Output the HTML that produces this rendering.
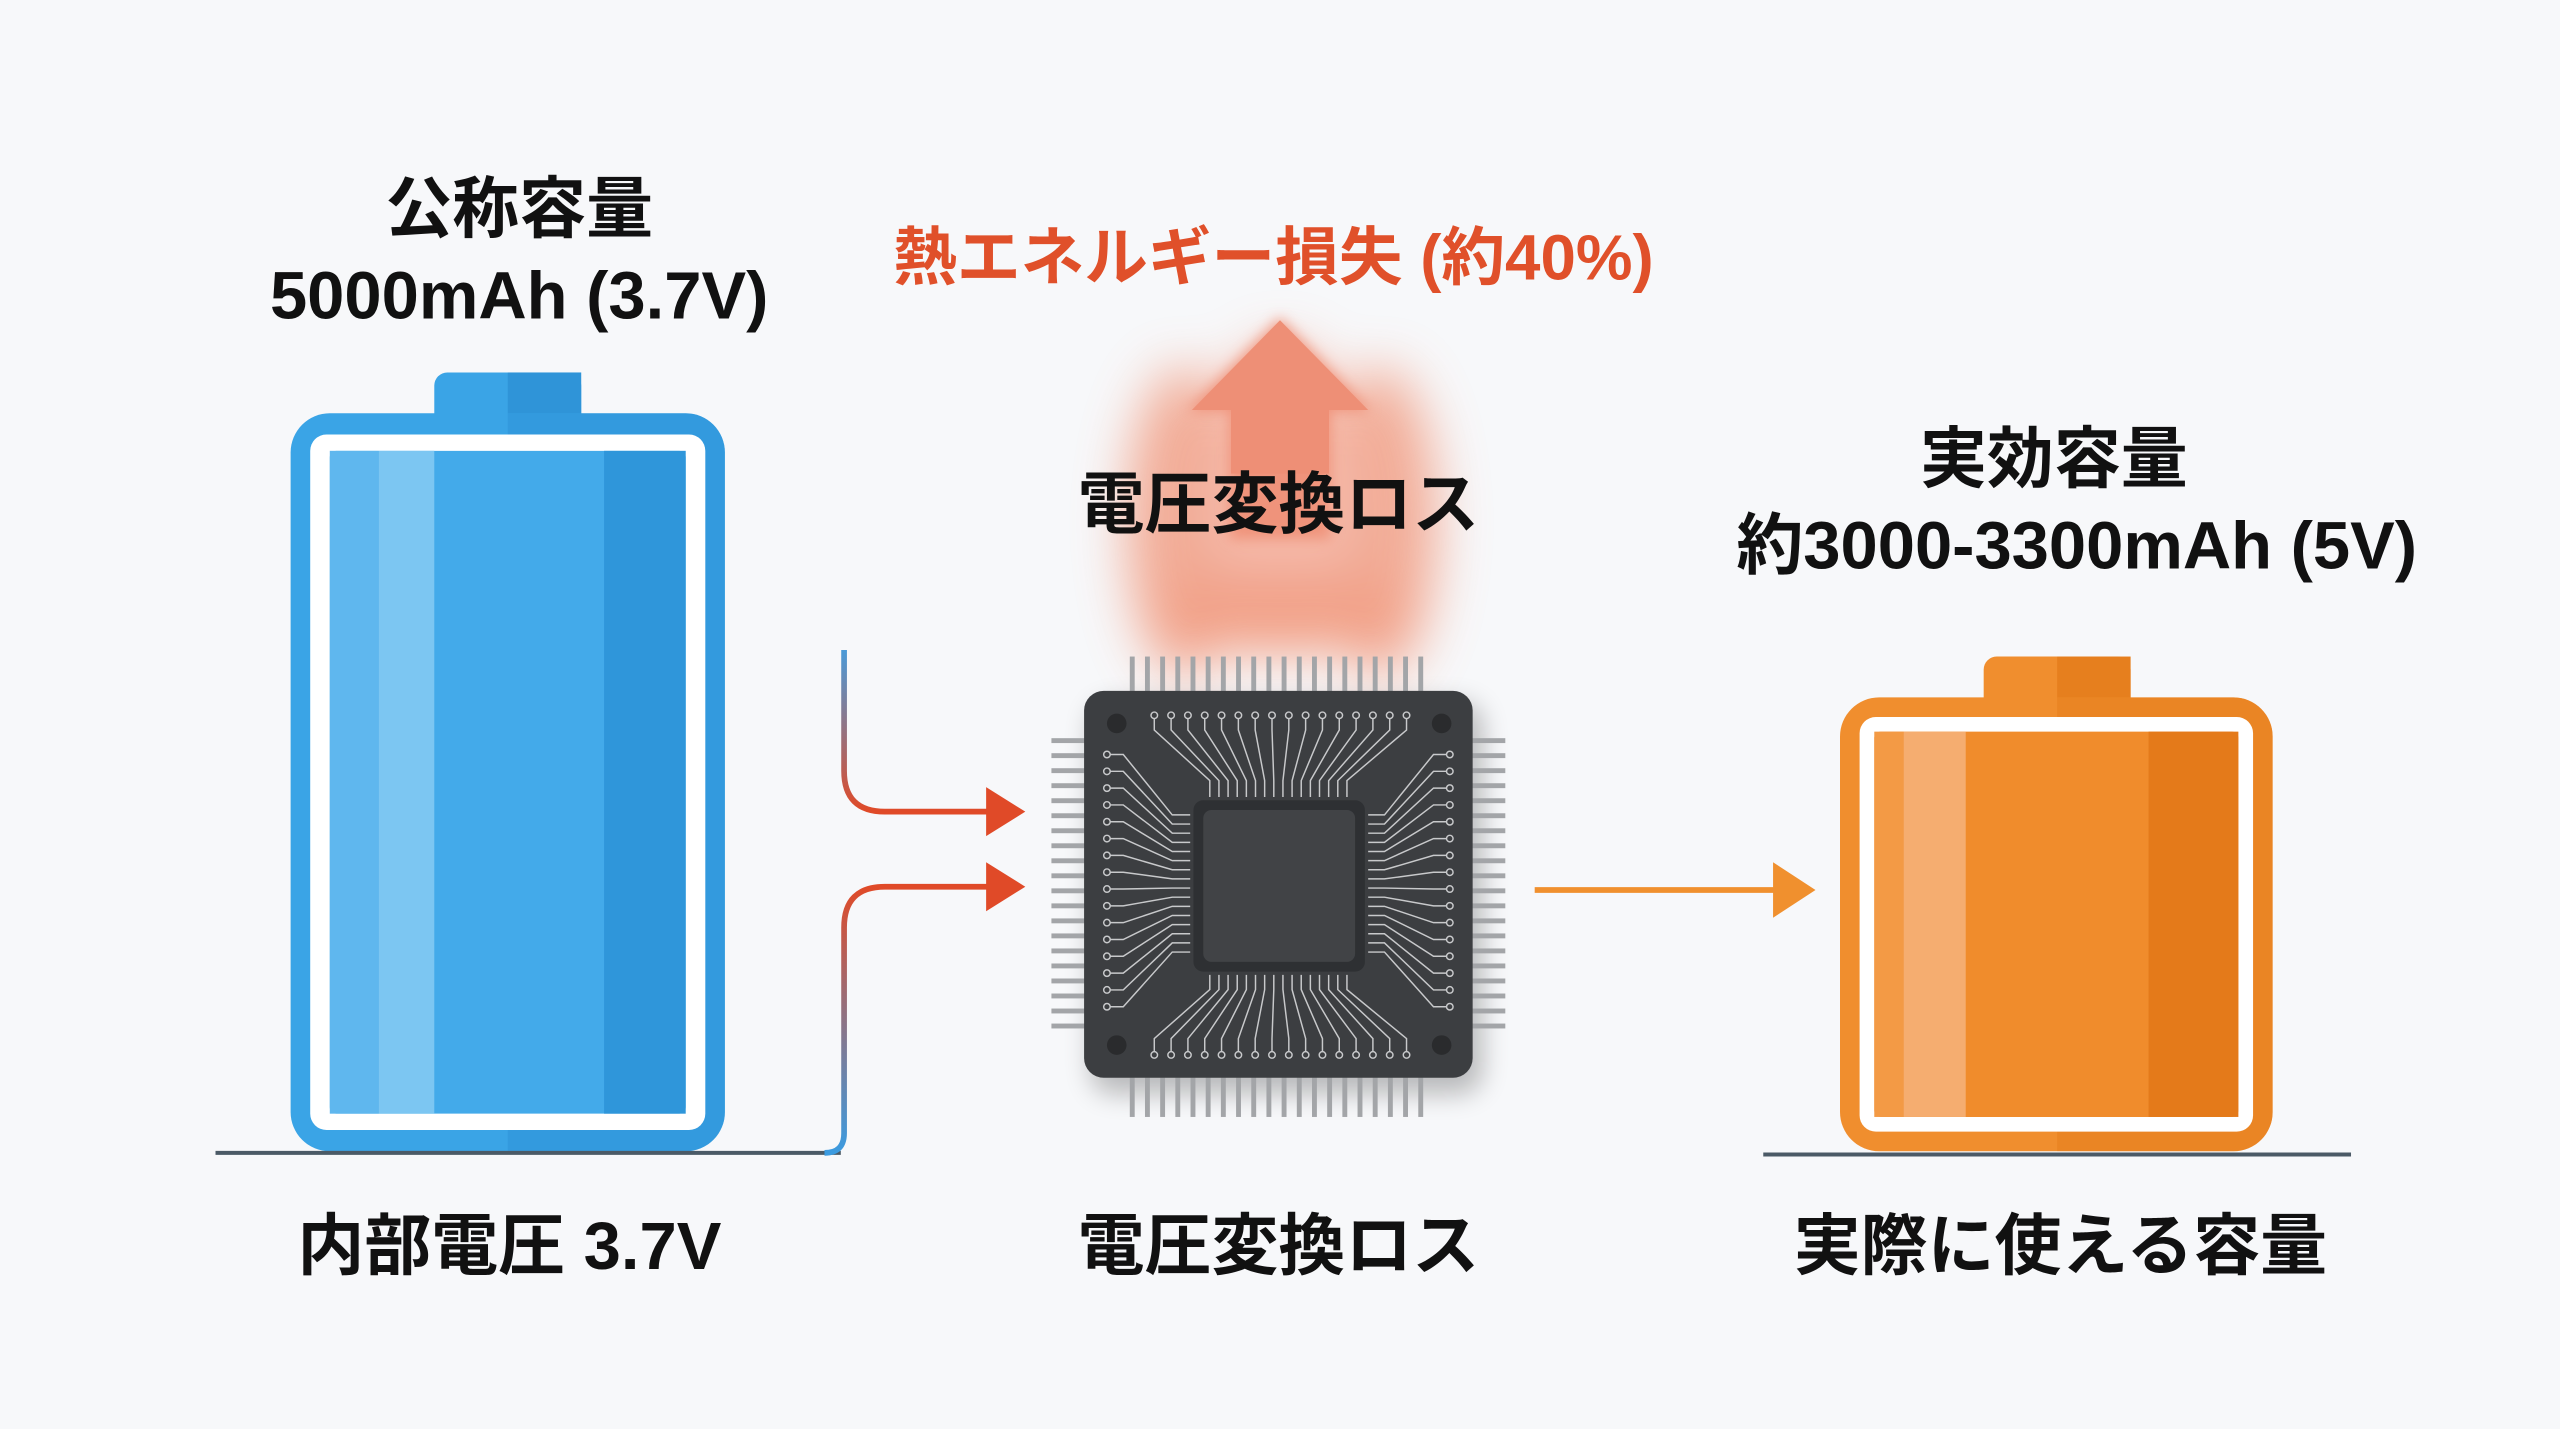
<!DOCTYPE html>
<html><head><meta charset="utf-8"><style>
html,body{margin:0;padding:0;background:#f7f8fa;}
svg{display:block}
text{font-family:"Liberation Sans","Noto Sans CJK JP",sans-serif;font-weight:bold;}
</style></head><body>
<svg id="s" width="2560" height="1429" viewBox="0 0 1568 875" xmlns="http://www.w3.org/2000/svg">
<defs>
<filter id="blur" x="-80%" y="-80%" width="260%" height="260%"><feGaussianBlur stdDeviation="16"/></filter>
<filter id="blur2" x="-50%" y="-50%" width="200%" height="200%"><feGaussianBlur stdDeviation="4"/></filter>
<filter id="sh" x="-20%" y="-20%" width="140%" height="140%"><feGaussianBlur stdDeviation="8"/></filter>
<linearGradient id="wire1" x1="0" y1="0" x2="0" y2="1"><stop offset="0" stop-color="#4a9ad8"/><stop offset="1" stop-color="#e04a28"/></linearGradient>
<linearGradient id="wire2" x1="0" y1="1" x2="0" y2="0"><stop offset="0" stop-color="#3b9be0"/><stop offset="1" stop-color="#e04a28"/></linearGradient>
<clipPath id="cb"><rect x="178" y="253" width="266" height="452" rx="24"/></clipPath>
<clipPath id="co"><rect x="1127" y="427" width="265" height="278" rx="24"/></clipPath>
</defs>
<rect width="1568" height="875" fill="#f7f8fa"/>

<text x="318" y="142" font-size="41" text-anchor="middle" fill="#111">公称容量</text>
<text x="318" y="195" font-size="41" text-anchor="middle" fill="#111">5000mAh (3.7V)</text>
<text x="780" y="171" font-size="39" text-anchor="middle" fill="#e0502a">熱エネルギー損失 (約40%)</text>
<text x="1258" y="295" font-size="41" text-anchor="middle" fill="#111">実効容量</text>
<text x="1272" y="348" font-size="41" text-anchor="middle" fill="#111">約3000-3300mAh (5V)</text>

<g filter="url(#blur)" opacity="0.7">
<ellipse cx="725" cy="320" rx="35" ry="95" fill="#f08a6a"/>
<ellipse cx="845" cy="320" rx="35" ry="95" fill="#f08a6a"/>
<ellipse cx="785" cy="300" rx="45" ry="90" fill="#f4a088"/>
<ellipse cx="785" cy="375" rx="80" ry="25" fill="#f07a55"/>
</g>
<path d="M784 194 L840 252 L815 252 L815 330 L753 330 L753 252 L727 252 Z" fill="#ef8a70" opacity="0.8" filter="url(#blur2)"/>
<path d="M784 196 L838 251 L814 251 L814 290 L754 290 L754 251 L730 251 Z" fill="#ee8f76"/>
<text x="783" y="323" font-size="41" text-anchor="middle" fill="#111">電圧変換ロス</text>

<rect x="266" y="228" width="90" height="40" rx="8" fill="#3aa4e6"/>
<rect x="311" y="228" width="45" height="40" fill="#2f94d8"/>
<rect x="178" y="253" width="266" height="452" rx="24" fill="#3aa4e6"/>
<rect x="311" y="253" width="133" height="452" fill="#2f94d8" opacity="0.6" clip-path="url(#cb)"/>
<rect x="190" y="266" width="242" height="426" rx="10" fill="#fff"/>
<rect x="202" y="276" width="218" height="406" rx="4" fill="#43aaea"/>
<rect x="202" y="276" width="30" height="406" fill="#5fb7ee"/>
<rect x="232" y="276" width="34" height="406" fill="#7cc6f2"/>
<rect x="370" y="276" width="50" height="406" fill="#2f96da"/>
<line x1="132" y1="706" x2="515" y2="706" stroke="#4b5a66" stroke-width="2.5"/>

<path d="M517 398 L517 472 Q517 497 542 497 L606 497" fill="none" stroke="url(#wire1)" stroke-width="3.5"/>
<path d="M604 482 L628 497 L604 512 Z" fill="#e04a28"/>
<path d="M505 706 Q517 706 517 694 L517 568 Q517 543 542 543 L606 543" fill="none" stroke="url(#wire2)" stroke-width="3.5"/>
<path d="M604 528 L628 543 L604 558 Z" fill="#e04a28"/>

<rect x="668" y="430" width="240" height="240" rx="14" fill="#000" opacity="0.25" filter="url(#sh)"/>
<g id="pins" fill="#a3a5a8"></g>
<rect x="664" y="423" width="238" height="237" rx="12" fill="#3c3e41"/>
<g id="traces" stroke="#c8c9cb" stroke-width="0.9" fill="none"></g>
<circle cx="684" cy="443" r="6" fill="#2a2b2d"/>
<circle cx="883" cy="443" r="6" fill="#2a2b2d"/>
<circle cx="684" cy="640" r="6" fill="#2a2b2d"/>
<circle cx="883" cy="640" r="6" fill="#2a2b2d"/>
<rect x="731" y="490" width="105" height="105" rx="6" fill="#2e3033"/>
<rect x="737" y="496" width="93" height="93" rx="5" fill="#414346"/>

<line x1="940" y1="545" x2="1092" y2="545" stroke="#f0902e" stroke-width="3.5"/>
<path d="M1086 528 L1112 545 L1086 562 Z" fill="#f0902e"/>

<rect x="1215" y="402" width="90" height="40" rx="8" fill="#f08e2e"/>
<rect x="1260" y="402" width="45" height="40" fill="#e67f1e"/>
<rect x="1127" y="427" width="265" height="278" rx="24" fill="#f08e2e"/>
<rect x="1260" y="427" width="132" height="278" fill="#e67f1e" opacity="0.6" clip-path="url(#co)"/>
<rect x="1139" y="439" width="241" height="254" rx="10" fill="#fff"/>
<rect x="1148" y="448" width="223" height="236" rx="4" fill="#f08c2c"/>
<rect x="1148" y="448" width="18" height="236" fill="#f39a45"/>
<rect x="1166" y="448" width="38" height="236" fill="#f5ad70"/>
<rect x="1316" y="448" width="55" height="236" fill="#e47a1a"/>
<line x1="1080" y1="707" x2="1440" y2="707" stroke="#4b5a66" stroke-width="2.5"/>

<text x="312" y="777" font-size="41" text-anchor="middle" fill="#111">内部電圧 3.7V</text>
<text x="783" y="777" font-size="41" text-anchor="middle" fill="#111">電圧変換ロス</text>
<text x="1262" y="777" font-size="41" text-anchor="middle" fill="#111">実際に使える容量</text>
</svg>
<script>
var NS="http://www.w3.org/2000/svg";
var pins=document.getElementById('pins'),tr=document.getElementById('traces');
function r(x,y,w,h,c){var e=document.createElementNS(NS,'rect');e.setAttribute('x',x);e.setAttribute('y',y);e.setAttribute('width',w);e.setAttribute('height',h);if(c)e.setAttribute('fill',c);pins.appendChild(e);}
for(var i=0;i<20;i++){var x=692+i*9.3;r(x,402,3,24);r(x,658,3,26);var y=452+i*9.2;r(644,y,24,3);r(898,y,24,3);}
function p(d){var e=document.createElementNS(NS,'path');e.setAttribute('d',d);tr.appendChild(e);}
function c(x,y){var e=document.createElementNS(NS,'circle');e.setAttribute('cx',x);e.setAttribute('cy',y);e.setAttribute('r',2);tr.appendChild(e);}
var n=16;
for(var i=0;i<n;i++){
 var px=707+i*10.3, cx=741+i*5.6;
 c(px,438);p('M'+px+' 440 L'+px+' 447 L'+cx+' 478 L'+cx+' 488');
 c(px,646);p('M'+px+' 644 L'+px+' 636 L'+cx+' 606 L'+cx+' 597');
 var py=462+i*10.3, cy=499+i*5.6;
 c(678,py);p('M680 '+py+' L688 '+py+' L718 '+cy+' L729 '+cy);
 c(888,py);p('M886 '+py+' L878 '+py+' L848 '+cy+' L838 '+cy);
}
</script>
</body></html>
